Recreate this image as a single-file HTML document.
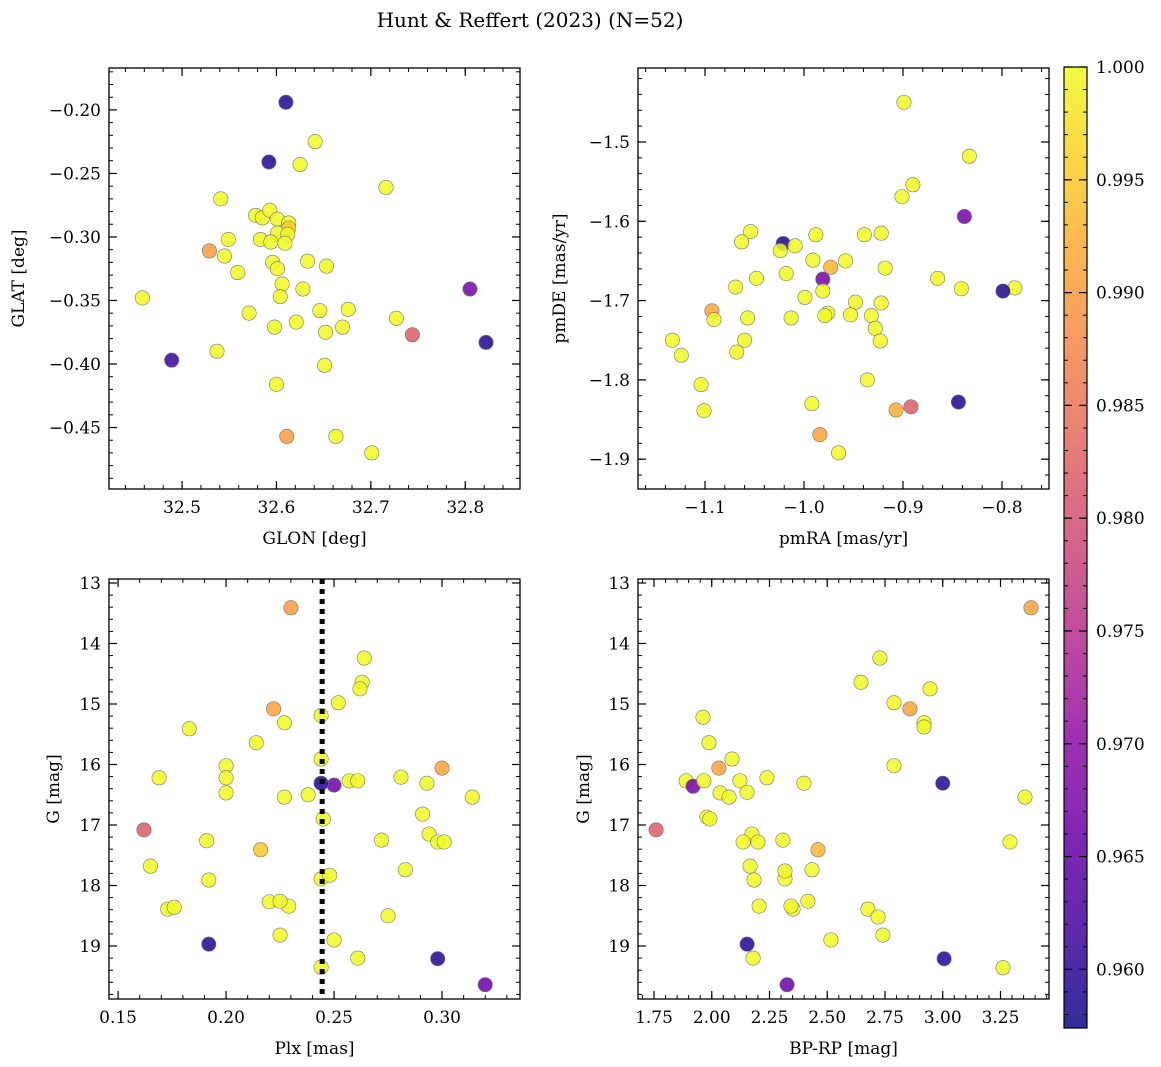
<!DOCTYPE html>
<html><head><meta charset="utf-8">
<style>
html,body{margin:0;padding:0;background:#fff;}
svg{display:block;font-family:"DejaVu Serif","Liberation Serif",serif;}
</style></head>
<body>
<svg id="fig" width="1161" height="1067" viewBox="0 0 1161 1067">
<text x="530" y="27" text-anchor="middle" font-size="20">Hunt &amp; Reffert (2023) (N=52)</text>
</svg>
<script>
// ---------- data ----------
const pos_glon=[32.610,32.641,32.592,32.625,32.716,32.541,32.578,32.585,32.593,32.601,32.613,32.613,32.601,32.612,32.549,32.529,32.583,32.594,32.609,32.633,32.653,32.596,32.601,32.559,32.606,32.628,32.458,32.604,32.571,32.646,32.676,32.598,32.621,32.652,32.670,32.727,32.744,32.805,32.822,32.489,32.537,32.600,32.651,32.611,32.663,32.701,32.545];
const pos_glat=[-0.194,-0.225,-0.241,-0.243,-0.261,-0.270,-0.283,-0.285,-0.279,-0.286,-0.289,-0.293,-0.297,-0.298,-0.302,-0.311,-0.302,-0.304,-0.305,-0.319,-0.323,-0.320,-0.325,-0.328,-0.337,-0.341,-0.348,-0.347,-0.360,-0.358,-0.357,-0.371,-0.367,-0.375,-0.371,-0.364,-0.377,-0.341,-0.383,-0.397,-0.390,-0.416,-0.401,-0.457,-0.457,-0.470,-0.315];
const pos_prob=[0.959,1,0.959,1,1,1,1,1,1,1,1,0.995,1,1,1,0.990,1,1,1,1,1,1,1,1,1,1,1,1,1,1,1,1,1,1,1,1,0.982,0.967,0.959,0.961,1,1,1,0.990,1,1,1];

const pm_ra=[-0.899,-0.833,-0.890,-0.901,-0.838,-1.054,-1.063,-1.021,-1.009,-0.988,-0.922,-0.939,-1.024,-0.958,-0.991,-0.918,-1.018,-1.048,-0.973,-0.981,-1.069,-0.981,-0.865,-0.999,-0.841,-0.787,-0.799,-1.093,-1.091,-1.057,-0.922,-0.948,-0.976,-0.979,-0.953,-0.932,-0.928,-0.923,-1.013,-1.060,-1.133,-1.124,-1.068,-1.104,-0.936,-0.844,-0.992,-1.101,-0.907,-0.892,-0.984,-0.965];
const pm_de=[-1.450,-1.518,-1.554,-1.569,-1.594,-1.613,-1.626,-1.628,-1.631,-1.617,-1.615,-1.617,-1.637,-1.650,-1.649,-1.659,-1.666,-1.672,-1.658,-1.673,-1.683,-1.688,-1.672,-1.696,-1.685,-1.684,-1.688,-1.713,-1.724,-1.722,-1.703,-1.702,-1.716,-1.719,-1.718,-1.719,-1.735,-1.751,-1.722,-1.750,-1.750,-1.769,-1.765,-1.806,-1.800,-1.828,-1.830,-1.839,-1.838,-1.834,-1.869,-1.892];
const pm_prob=[1,1,1,1,0.967,1,1,0.959,1,1,1,1,1,1,1,1,1,1,0.993,0.967,1,1,1,1,1,1,0.959,0.991,1,1,1,1,1,1,1,1,1,1,1,1,1,1,1,1,1,0.959,1,1,0.992,0.982,0.991,1];

const cmd_plx=[0.230,0.264,0.263,0.262,0.252,0.244,0.222,0.227,0.183,0.214,0.200,0.244,0.300,0.169,0.200,0.257,0.261,0.281,0.293,0.250,0.244,0.238,0.227,0.314,0.200,0.291,0.245,0.162,0.294,0.272,0.191,0.298,0.301,0.216,0.165,0.283,0.192,0.244,0.248,0.220,0.229,0.225,0.173,0.176,0.275,0.225,0.250,0.192,0.244,0.261,0.298,0.320];
const cmd_g=[13.41,14.24,14.64,14.75,14.98,15.19,15.08,15.31,15.41,15.64,16.02,15.91,16.06,16.22,16.22,16.27,16.27,16.21,16.31,16.34,16.31,16.50,16.54,16.54,16.47,16.82,16.90,17.08,17.15,17.25,17.26,17.28,17.28,17.41,17.68,17.74,17.91,17.89,17.83,18.27,18.34,18.26,18.39,18.36,18.50,18.82,18.90,18.97,19.35,19.20,19.21,19.64];
const cmd_prob=[0.990,1,1,1,1,1,0.991,1,1,1,1,1,0.991,1,1,1,1,1,1,0.966,0.959,1,1,1,1,1,1,0.982,1,1,1,1,1,0.995,1,1,1,1,1,1,1,1,1,1,1,1,1,0.959,1,1,0.959,0.966];

const col_bprp=[3.382,2.728,2.646,2.945,2.789,2.858,1.962,2.919,2.919,1.988,2.031,2.789,2.088,3.000,1.889,1.919,1.966,2.122,2.239,2.399,2.036,2.153,2.075,3.356,1.979,1.992,2.174,2.308,2.136,1.759,2.200,3.291,2.460,2.166,2.434,2.183,2.317,2.317,2.205,2.352,2.676,2.720,2.416,2.343,2.741,2.516,2.153,2.179,3.261,3.006,2.326];
const col_g=[13.41,14.24,14.64,14.75,14.98,15.08,15.22,15.31,15.38,15.64,16.06,16.02,15.91,16.31,16.27,16.36,16.27,16.27,16.22,16.31,16.47,16.46,16.54,16.54,16.87,16.90,17.15,17.25,17.28,17.08,17.28,17.28,17.41,17.68,17.74,17.91,17.89,17.76,18.34,18.39,18.39,18.52,18.26,18.34,18.82,18.90,18.97,19.20,19.36,19.21,19.64];
const col_prob=[0.991,1,1,1,1,0.991,1,1,1,1,0.991,1,1,0.959,1,0.967,1,1,1,1,1,1,1,1,1,1,1,1,1,0.982,1,1,0.993,1,1,1,1,1,1,1,1,1,1,1,1,1,0.959,1,1,0.959,0.966];

const plxLine=0.2445;
const cbTicks=[0.960,0.965,0.970,0.975,0.980,0.985,0.990,0.995,1.000];
const VMIN=0.9574, VMAX=1.0;

// ---------- helpers ----------
const NS="http://www.w3.org/2000/svg";
const svg=document.getElementById('fig');
function mk(tag,attrs,parent){const e=document.createElementNS(NS,tag);for(const k in attrs)e.setAttribute(k,attrs[k]);(parent||svg).appendChild(e);return e;}
const plasma=[[13,8,135],[65,4,157],[106,0,168],[143,13,164],[177,42,144],[204,71,120],[225,100,98],[242,132,75],[252,166,54],[252,206,37],[240,249,33]];
function cmap(v){let t=(v-VMIN)/(VMAX-VMIN);t=Math.max(0,Math.min(1,t));const f=t*10,i=Math.min(9,Math.floor(f)),r=f-i;const a=plasma[i],b=plasma[i+1];
 return `rgb(${Math.round(a[0]+(b[0]-a[0])*r)},${Math.round(a[1]+(b[1]-a[1])*r)},${Math.round(a[2]+(b[2]-a[2])*r)})`;}
function lin(d0,d1,r0,r1){return v=>r0+(v-d0)*(r1-r0)/(d1-d0);}
function range(a,b,s){const o=[];for(let v=a;v<=b+s*1e-6;v+=s)o.push(Math.round(v/s)*s);return o;}

function panel(o){
 const {x0,x1,y0,y1,xd,yd,name}=o;
 const X=lin(xd[0],xd[1],x0,x1),Y=lin(yd[0],yd[1],y0,y1);
 const g=mk('g',{});
 
 
 // points
 for(let i=0;i<o.xs.length;i++){
  const c=mk('circle',{cx:X(o.xs[i]),cy:Y(o.ys[i]),r:7.2,fill:cmap(o.cs[i]),'fill-opacity':0.85,stroke:'#777','stroke-width':0.6},g);
  
  
 }
 if(o.extra)o.extra(X,Y,g);
 mk('rect',{x:x0,y:y0,width:x1-x0,height:y1-y0,fill:'none',stroke:'#000','stroke-width':1.3},g);
 const lo=Math.min(xd[0],xd[1]),hi=Math.max(xd[0],xd[1]);
 for(const v of range(Math.ceil(lo/o.xmin)*o.xmin,hi,o.xmin)){const p=X(v);mk('line',{x1:p,x2:p,y1:y1,y2:y1-4,stroke:'#000','stroke-width':1},g);mk('line',{x1:p,x2:p,y1:y0,y2:y0+4,stroke:'#000','stroke-width':1},g);}
 for(const v of o.xt){const p=X(v);mk('line',{x1:p,x2:p,y1:y1,y2:y1-8,stroke:'#000','stroke-width':1.2},g);mk('line',{x1:p,x2:p,y1:y0,y2:y0+8,stroke:'#000','stroke-width':1.2},g);
  const t=mk('text',{x:p,y:y1+24,'text-anchor':'middle','font-size':17},g);t.textContent=(v<0?'\u2212':'')+Math.abs(v).toFixed(o.xf);
  }
 const ylo=Math.min(yd[0],yd[1]),yhi=Math.max(yd[0],yd[1]);
 for(const v of range(Math.ceil(ylo/o.ymin)*o.ymin,yhi,o.ymin)){const p=Y(v);mk('line',{x1:x0,x2:x0+4,y1:p,y2:p,stroke:'#000','stroke-width':1},g);mk('line',{x1:x1,x2:x1-4,y1:p,y2:p,stroke:'#000','stroke-width':1},g);}
 for(const v of o.yt){const p=Y(v);mk('line',{x1:x0,x2:x0+8,y1:p,y2:p,stroke:'#000','stroke-width':1.2},g);mk('line',{x1:x1,x2:x1-8,y1:p,y2:p,stroke:'#000','stroke-width':1.2},g);
  const t=mk('text',{x:x0-8,y:p+6,'text-anchor':'end','font-size':17},g);t.textContent=(v<0?'\u2212':'')+Math.abs(v).toFixed(o.yf);
  }
 const xl=mk('text',{x:(x0+x1)/2,y:y1+55,'text-anchor':'middle','font-size':17},g);xl.textContent=o.xl;
 
 const yl=mk('text',{x:0,y:0,'text-anchor':'middle','font-size':17,transform:`translate(${o.ylx},${(y0+y1)/2}) rotate(-90)`},g);yl.textContent=o.yl;
 
}

panel({name:'position',x0:109,x1:520,y0:68,y1:489,xd:[32.4226,32.858],yd:[-0.167,-0.4984],xs:pos_glon,ys:pos_glat,cs:pos_prob,
 xt:[32.5,32.6,32.7,32.8],xmin:0.02,xf:1,yt:[-0.2,-0.25,-0.3,-0.35,-0.4,-0.45],ymin:0.01,yf:2,xl:'GLON [deg]',yl:'GLAT [deg]',ylx:24});
panel({name:'proper-motion',x0:638,x1:1049,y0:68,y1:489,xd:[-1.1677,-0.7525],yd:[-1.4067,-1.9376],xs:pm_ra,ys:pm_de,cs:pm_prob,
 xt:[-1.1,-1.0,-0.9,-0.8],xmin:0.02,xf:1,yt:[-1.5,-1.6,-1.7,-1.8,-1.9],ymin:0.02,yf:1,xl:'pmRA [mas/yr]',yl:'pmDE [mas/yr]',ylx:565});
panel({name:'parallax-mag',x0:109,x1:520,y0:579,y1:999,xd:[0.1458,0.3361],yd:[12.934,19.876],xs:cmd_plx,ys:cmd_g,cs:cmd_prob,
 xt:[0.15,0.2,0.25,0.3],xmin:0.01,xf:2,yt:[13,14,15,16,17,18,19],ymin:0.2,yf:0,xl:'Plx [mas]',yl:'G [mag]',ylx:59,
 extra:(X,Y,g)=>{const l=mk('line',{x1:X(plxLine),x2:X(plxLine),y1:579,y2:999,stroke:'#000','stroke-width':5,'stroke-dasharray':'5 5'},g);
  }});
panel({name:'cmd',x0:638,x1:1049,y0:579,y1:999,xd:[1.6807,3.460],yd:[12.934,19.876],xs:col_bprp,ys:col_g,cs:col_prob,
 xt:[1.75,2.0,2.25,2.5,2.75,3.0,3.25],xmin:0.05,xf:2,yt:[13,14,15,16,17,18,19],ymin:0.2,yf:0,xl:'BP-RP [mag]',yl:'G [mag]',ylx:589});

// colorbar
const defs=mk('defs',{});
const grad=mk('linearGradient',{id:'pl',x1:0,y1:1,x2:0,y2:0},defs);
for(let i=0;i<=10;i++){mk('stop',{offset:i/10,'stop-color':`rgb(${plasma[i].join(',')})`},grad);}
const cb=mk('g',{});


mk('rect',{x:1064,y:67,width:23,height:961,fill:'url(#pl)','fill-opacity':0.85},cb);
mk('rect',{x:1064,y:67,width:23,height:961,fill:'none',stroke:'#000','stroke-width':1.2},cb);
const CY=lin(VMIN,VMAX,1028,67);
for(const v of range(0.958,1.0,0.001)){const p=CY(v);mk('line',{x1:1087,x2:1083,y1:p,y2:p,stroke:'#000','stroke-width':1},cb);mk('line',{x1:1064,x2:1068,y1:p,y2:p,stroke:'#000','stroke-width':1},cb);}
for(const v of cbTicks){const p=CY(v);mk('line',{x1:1087,x2:1079,y1:p,y2:p,stroke:'#000','stroke-width':1.2},cb);mk('line',{x1:1064,x2:1072,y1:p,y2:p,stroke:'#000','stroke-width':1.2},cb);
 const t=mk('text',{x:1096,y:p+6,'font-size':17},cb);t.textContent=v.toFixed(3);
 }
</script>
</body></html>
